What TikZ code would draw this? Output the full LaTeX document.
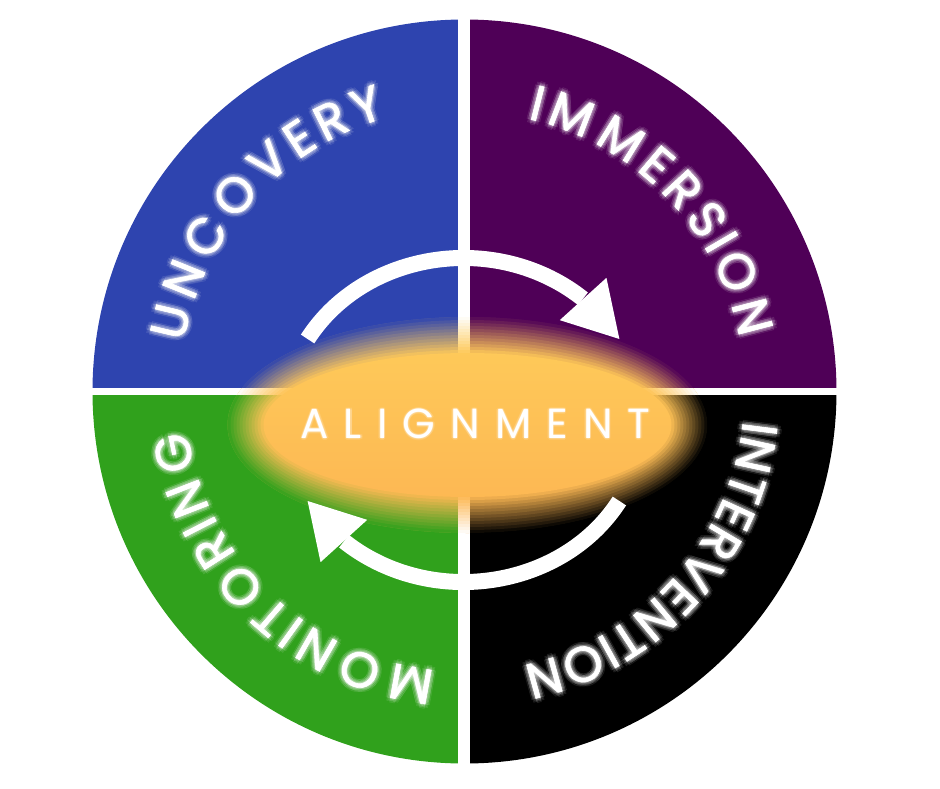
\documentclass[tikz,border=0pt]{standalone}
\usepackage{fontspec}
\setmainfont{Poppins}
\newfontfamily\wordfamily[FakeBold=1.2]{Poppins}
\newfontfamily\spacedfont[LetterSpace=36]{Poppins}
\usetikzlibrary{arrows.meta,bending,decorations.text,fadings}

\definecolor{uncoveryblue}{RGB}{46,68,175}
\definecolor{immersionpurple}{RGB}{79,0,87}
\definecolor{monitoringgreen}{RGB}{48,161,28}
\definecolor{glowtop}{RGB}{254,205,90}
\definecolor{glowbottom}{RGB}{253,180,82}

\newcommand\wordfont{\wordfamily\fontsize{50}{60}\selectfont}
\newcommand\alignfont{\spacedfont\fontsize{42}{50}\selectfont}

% soft edge of the orange glow
\begin{tikzfadingfrompicture}[name=blobfade, x=1pt, y=1pt]
\foreach \k [evaluate=\k as \p using 94-8*\k] in {0,...,11}
  \fill[transparent!\p] (0,0) ellipse [x radius=240-3*\k, y radius=108-3*\k];
\fill[transparent!0] (0,0) ellipse [x radius=204, y radius=72];
\end{tikzfadingfrompicture}

\begin{document}
\begin{tikzpicture}[x=1pt, y=1pt]
\tikzstyle{arrowring} = [white, line width=16pt, -{Triangle[length=54pt, width=63pt, line width=0pt, flex]}]
\useasboundingbox (-467.5,-363) rectangle (472.5,425);
% places (origin at the orange glow)
\coordinate (blob) at (0,0);
\coordinate (c) at (-3,33.5);
\coordinate (ring) at (-4,5);
\coordinate (label) at (8,1);

% quarters
\fill[uncoveryblue] (c) -- ++(180:372) arc[start angle=180, end angle=90, radius=372] -- cycle;
\fill[immersionpurple] (c) -- ++(90:372) arc[start angle=90, end angle=0, radius=372] -- cycle;
\fill[black] (c) -- ++(0:372) arc[start angle=0, end angle=-90, radius=372] -- cycle;
\fill[monitoringgreen] (c) -- ++(-90:372) arc[start angle=-90, end angle=-180, radius=372] -- cycle;
\draw[white, line width=12pt] ([yshift=380]c) -- ([yshift=-380]c);
\draw[white, line width=7pt] ([xshift=-380]c) -- ([xshift=380]c);

% orange glow
\shade[top color=glowtop, bottom color=glowbottom, path fading=blobfade, fit fading=false]
  (blob) ellipse [x radius=242, y radius=110];

% cycle arrows
\draw[arrowring] ([shift={(150:180 and 162)}]ring) arc[start angle=150, end angle=30, x radius=180, y radius=162];
\draw[arrowring] ([shift={(-30:180 and 162)}]ring) arc[start angle=-30, end angle=-150, x radius=180, y radius=162];

% words round the rim
\foreach \word/\rad/\from/\to in {UNCOVERY/285/170/106, IMMERSION/280/77/11, INTERVENTION/280/-6/-78, MONITORING/280/-96/-172} {
  \foreach \g in {0,45,...,315}
    \foreach \d in {1.5,3,4.5}
      \path [decorate, decoration={text effects along path, text/.expanded=\word,
        text effects/.cd, text along path, fit text to path,
        characters={text=white, font=\wordfont, opacity=0.07, shift={(\g:\d pt)}}}]
        ([shift={(\from:\rad)}]c) arc[start angle=\from, end angle=\to, radius=\rad];
  \path [decorate, decoration={text effects along path, text/.expanded=\word,
    text effects/.cd, text along path, fit text to path,
    characters={text=white, font=\wordfont}}]
    ([shift={(\from:\rad)}]c) arc[start angle=\from, end angle=\to, radius=\rad];
}

% centre label
\foreach \g in {0,45,...,315}
  \node[text=white, opacity=0.12, font=\alignfont] (halo-\g) at ([shift={(\g:1.5pt)}]label) {ALIGNMENT};
\node[text=white, font=\alignfont] (alignment) at (label) {ALIGNMENT};
\end{tikzpicture}
\end{document}
